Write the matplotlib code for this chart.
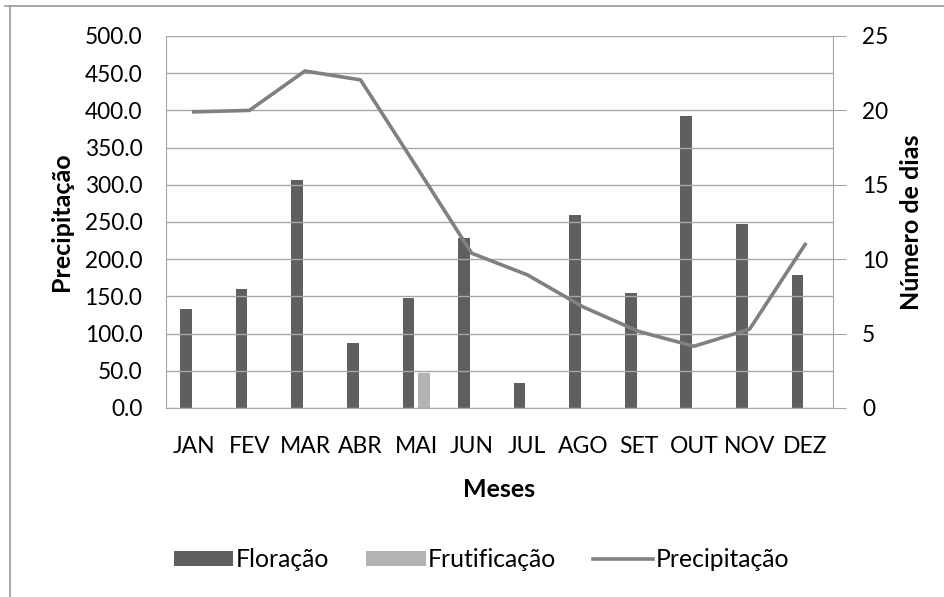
import matplotlib.pyplot as plt
import numpy as np
from matplotlib.lines import Line2D

# dados
meses = ['JAN', 'FEV', 'MAR', 'ABR', 'MAI', 'JUN', 'JUL', 'AGO', 'SET', 'OUT', 'NOV', 'DEZ']
precipitacao = [398, 400, 453, 441, 325, 208, 179, 136, 103, 83, 106, 220]
floracao = [6.65, 8.0, 15.3, 4.35, 7.4, 11.4, 1.7, 13.0, 7.7, 19.65, 12.35, 8.95]
frutificacao = [0, 0, 0, 0, 2.35, 0, 0, 0, 0, 0, 0, 0]

plt.rcParams['font.family'] = ['Lato', 'DejaVu Sans']

fig = plt.figure(figsize=(9.44, 5.97), dpi=100)
ax = fig.add_axes([166/944, 189/597, 667/944, 372/597])
ax2 = ax.twinx()

x = np.arange(len(meses))
cinza_eixo = '#a6a6a6'

# barras no eixo da direita (numero de dias)
ax2.bar(x - 0.14, floracao, width=0.21, color='#5f5f5f', label='Floração', zorder=2)
ax2.bar(x + 0.14, frutificacao, width=0.21, color='#b3b3b3', label='Frutificação', zorder=2)
ax2.set_ylim(0, 25)
ax2.set_yticks(np.arange(0, 26, 5))

# linha de precipitacao no eixo da esquerda
ax.set_zorder(ax2.get_zorder() + 1)
ax.patch.set_visible(False)
ax.plot(x, precipitacao, color='#808080', lw=2.6, label='Precipitação', zorder=3)
ax.set_ylim(0, 500)
ax.set_yticks(np.arange(0, 501, 50))
ax.set_yticklabels(['%.1f' % v for v in np.arange(0, 501, 50)])
ax.set_xlim(-0.5, 11.5)
ax.set_xticks(x)
ax.set_xticklabels(meses)
ax.grid(axis='y', color=cinza_eixo, lw=1)
ax.set_axisbelow(True)

for a in (ax, ax2):
    for s in a.spines.values():
        s.set_visible(False)
ax.spines['left'].set_visible(True)
ax.spines['left'].set_color(cinza_eixo)
ax.spines['bottom'].set_visible(True)
ax.spines['bottom'].set_color(cinza_eixo)
ax2.spines['right'].set_visible(True)
ax2.spines['right'].set_color(cinza_eixo)

ax.tick_params(axis='y', length=0, labelsize=16.3, pad=17, colors='#000000')
ax.tick_params(axis='x', length=0, labelsize=16.5, pad=20)
ax2.tick_params(axis='y', length=9, color=cinza_eixo, labelsize=16.3, pad=12)

ax.set_ylabel('Precipitação', fontsize=18, fontweight='bold', labelpad=8)
ax2.set_ylabel('Número de dias', fontsize=18, fontweight='bold', labelpad=8)
ax.set_xlabel('Meses', fontsize=18, fontweight='bold', labelpad=15)

h1, l1 = ax2.get_legend_handles_labels()
h2, l2 = ax.get_legend_handles_labels()
fig.legend(h1 + h2, l1 + l2, loc='center', bbox_to_anchor=(0.51, 0.062), ncol=3,
           frameon=False, fontsize=17.8, handlelength=2.4, handleheight=0.55,
           handletextpad=0.1, columnspacing=1.5)

# moldura do grafico
fig.add_artist(Line2D([10/944, 10/944], [0, 1 - 6/597], color='#999999', lw=1.2))
fig.add_artist(Line2D([5/944, 1], [1 - 6/597, 1 - 6/597], color='#999999', lw=1.2))

fig.savefig('out.png', dpi=100)
